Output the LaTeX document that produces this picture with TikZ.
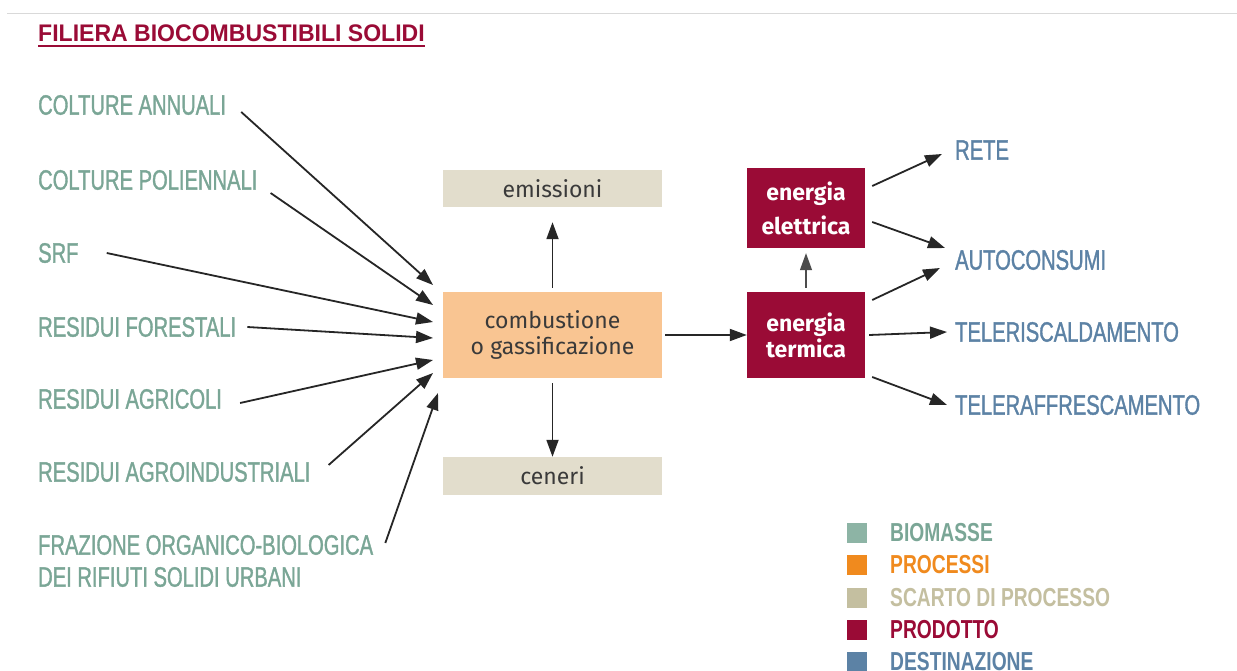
\documentclass[tikz,border=0pt]{standalone}
\usepackage{fontspec}
\usetikzlibrary{arrows.meta}
\newfontfamily\labelfont[FakeStretch=0.72,FakeBold=1.2]{Liberation Sans}
\newfontfamily\legendfont[FakeStretch=0.74]{Liberation Sans}
\newfontfamily\titlefont[FakeStretch=0.96]{Liberation Sans}
\newfontfamily\boxfont{Fira Sans}
\definecolor{bio}{RGB}{122,166,150}
\definecolor{biosq}{RGB}{141,180,165}
\definecolor{proc}{RGB}{240,138,30}
\definecolor{procfill}{RGB}{249,197,146}
\definecolor{scarto}{RGB}{196,191,160}
\definecolor{scartofill}{RGB}{226,221,204}
\definecolor{prod}{RGB}{154,11,54}
\definecolor{dest}{RGB}{92,130,165}
\definecolor{boxtext}{RGB}{58,58,58}

\begin{document}
\begin{tikzpicture}[x=1pt,y=-1pt,
  src/.style={anchor=west,inner sep=0pt,text=bio,font=\labelfont\fontsize{28}{32}\selectfont},
  dst/.style={anchor=west,inner sep=0pt,text=dest,font=\labelfont\fontsize{28}{32}\selectfont},
  procbox/.style={fill=procfill,minimum width=219pt,inner sep=0pt,align=center,text=boxtext,font=\boxfont\fontsize{23}{26}\selectfont},
  wastebox/.style={fill=scartofill,minimum width=219pt,inner sep=0pt,text=boxtext,font=\boxfont\fontsize{23}{26}\selectfont},
  prodbox/.style={fill=prod,minimum width=118pt,inner sep=0pt,align=center,text=white,font=\boxfont\bfseries\fontsize{23}{26}\selectfont},
  legsq/.style={fill=#1,minimum size=20pt,inner sep=0pt},
  legtxt/.style={anchor=west,inner sep=0pt,text=#1,font=\legendfont\bfseries\fontsize{26}{28}\selectfont},
  arr/.style={-{Triangle[length=17pt,width=12pt]},line width=1.8pt,draw=black!85}]
\useasboundingbox[fill=white] (0,0) rectangle (1237,671);
\draw[black!15,line width=1pt] (7,14) -- (1237,14);

% title
\node[anchor=west,inner sep=0pt,text=prod,font=\titlefont\bfseries\fontsize{24}{28}\selectfont] at (38,33) (title) {FILIERA BIOCOMBUSTIBILI SOLIDI};
\draw[prod,line width=2pt] ([yshift=-4pt]title.south west) -- ([yshift=-4pt]title.south east);

% biomasse
\node[src] at (38,105) (annuali) {COLTURE ANNUALI};
\node[src] at (38,180) (poliennali) {COLTURE POLIENNALI};
\node[src] at (38,253) (srf) {SRF};
\node[src] at (38,327) (forestali) {RESIDUI FORESTALI};
\node[src] at (38,399) (agricoli) {RESIDUI AGRICOLI};
\node[src] at (38,472) (agroind) {RESIDUI AGROINDUSTRIALI};
\node[src,align=left] at (38,561) (forsu) {FRAZIONE ORGANICO-BIOLOGICA\\DEI RIFIUTI SOLIDI URBANI};

% processi
\node[procbox,minimum height=86pt] at (552.5,335) (main) {combustione\\o gassificazione};
\node[wastebox,minimum height=37pt] at (552.5,188.5) (emissioni) {emissioni};
\node[wastebox,minimum height=38pt] at (552.5,476) (ceneri) {ceneri};
\node[prodbox,minimum height=80pt,font=\boxfont\bfseries\fontsize{23}{34}\selectfont] at (806,208) (elettrica) {energia\\elettrica};
\node[prodbox,minimum height=86pt] at (806,335) (termica) {energia\\termica};

% destinazioni
\node[dst] at (955,150) (rete) {RETE};
\node[dst] at (955,260) (autocons) {AUTOCONSUMI};
\node[dst] at (955,332) (telerisc) {TELERISCALDAMENTO};
\node[dst] at (955,405) (teleraff) {TELERAFFRESCAMENTO};

% punte delle frecce in ingresso
\coordinate (in1) at (433,285);
\coordinate (in2) at (433,305);
\coordinate (in3) at (433,322);
\coordinate (in4) at (433,338);
\coordinate (in5) at (433,360);
\coordinate (in6) at (433,373);
\coordinate (in7) at (438,393);

\draw[arr] ([xshift=15pt,yshift=-7pt]annuali.east) -- (in1);
\draw[arr] ([xshift=13pt,yshift=-13pt]poliennali.east) -- (in2);
\draw[arr] ([xshift=28pt]srf.east) -- (in3);
\draw[arr] ([xshift=11pt]forestali.east) -- (in4);
\draw[arr] ([xshift=18pt,yshift=-4pt]agricoli.east) -- (in5);
\draw[arr] ([xshift=18pt,yshift=7pt]agroind.east) -- (in6);
\draw[arr] ([xshift=12pt,yshift=18pt]forsu.east) -- (in7);

\draw[arr] ([yshift=4pt]main.north) -- ([yshift=-15pt]emissioni.south);
\draw[arr] ([yshift=-5pt]main.south) -- (ceneri.north);
\draw[arr] ([xshift=3pt]main.east) -- (termica.west);
\draw[arr,line width=1.2pt,draw=black!70] ([yshift=4pt]termica.north) -- ([yshift=-5pt]elettrica.south);

\draw[arr] ([xshift=7pt,yshift=22pt]elettrica.east) -- ([xshift=-13pt,yshift=-4pt]rete.west);
\draw[arr] ([xshift=7pt,yshift=-14pt]elettrica.east) -- ([xshift=-10pt,yshift=12pt]autocons.west);
\draw[arr] ([xshift=7pt,yshift=35pt]termica.east) -- ([xshift=-15pt,yshift=-8pt]autocons.west);
\draw[arr] ([xshift=4pt]termica.east) -- ([xshift=-8pt]telerisc.west);
\draw[arr] ([xshift=7pt,yshift=-42pt]termica.east) -- ([xshift=-8pt]teleraff.west);

% legenda
\node[legsq=biosq] at (857,533) (sqbio) {};
\node[legsq=proc] at (857,565) (sqproc) {};
\node[legsq=scarto] at (857,598) (sqscarto) {};
\node[legsq=prod] at (857,630) (sqprod) {};
\node[legsq=dest] at (857,662) (sqdest) {};
\node[legtxt=bio] at (890,533) (lbio) {BIOMASSE};
\node[legtxt=proc] at (890,565) (lproc) {PROCESSI};
\node[legtxt=scarto] at (890,598) (lscarto) {SCARTO DI PROCESSO};
\node[legtxt=prod] at (890,630) (lprod) {PRODOTTO};
\node[legtxt=dest] at (890,662) (ldest) {DESTINAZIONE};
\end{tikzpicture}
\end{document}
